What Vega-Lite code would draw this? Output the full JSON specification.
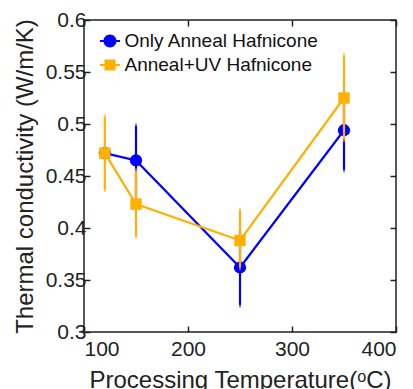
{
  "$schema": "https://vega.github.io/schema/vega-lite/v6.json",
  "width": 312,
  "height": 312,
  "autosize": {"type": "none"},
  "padding": {"left": 84, "top": 20, "right": 17, "bottom": 57},
  "background": "white",
  "config": {
    "font": "Liberation Sans",
    "view": {"stroke": "#222", "strokeWidth": 1.5},
    "axis": {
      "grid": false,
      "domain": false,
      "tickSize": -6,
      "tickColor": "#222",
      "tickWidth": 1.5,
      "labelFont": "Liberation Sans",
      "labelFontSize": 21,
      "labelColor": "#222",
      "titleFont": "Liberation Sans",
      "titleFontSize": 24,
      "titleFontWeight": "normal",
      "titleColor": "#222"
    }
  },
  "data": {
    "values": [
      {"series": "Only Anneal Hafnicone", "T": 120, "k": 0.472, "lo": 0.467, "hi": 0.477},
      {"series": "Only Anneal Hafnicone", "T": 150, "k": 0.465, "lo": 0.431, "hi": 0.498},
      {"series": "Only Anneal Hafnicone", "T": 250, "k": 0.362, "lo": 0.326, "hi": 0.398},
      {"series": "Only Anneal Hafnicone", "T": 350, "k": 0.494, "lo": 0.456, "hi": 0.532},
      {"series": "Anneal+UV Hafnicone", "T": 120, "k": 0.472, "lo": 0.437, "hi": 0.507},
      {"series": "Anneal+UV Hafnicone", "T": 150, "k": 0.423, "lo": 0.392, "hi": 0.455},
      {"series": "Anneal+UV Hafnicone", "T": 250, "k": 0.388, "lo": 0.362, "hi": 0.417},
      {"series": "Anneal+UV Hafnicone", "T": 350, "k": 0.525, "lo": 0.485, "hi": 0.566}
    ]
  },
  "layer": [
    {
      "encoding": {
        "x": {
          "field": "T", "type": "quantitative",
          "scale": {"domain": [100, 400], "nice": false, "zero": false},
          "axis": {"orient": "bottom", "values": [100, 200, 300, 400], "title": "Processing Temperature(ᵒC)", "labelPadding": 12, "titlePadding": 9}
        },
        "y": {
          "field": "k", "type": "quantitative",
          "scale": {"domain": [0.3, 0.6], "nice": false, "zero": false},
          "axis": {"orient": "left", "values": [0.3, 0.35, 0.4, 0.45, 0.5, 0.55, 0.6], "format": "~g", "title": "Thermal conductivity (W/m/K)", "labelPadding": 4, "titlePadding": 8}
        },
        "color": {
          "field": "series", "type": "nominal",
          "scale": {"domain": ["Only Anneal Hafnicone", "Anneal+UV Hafnicone"], "range": ["#0000FF", "#FFB000"]},
          "legend": {
            "title": null, "orient": "none", "legendX": 16.5, "legendY": 11.5, "padding": 0,
            "labelFontSize": 19, "labelFont": "Liberation Sans", "labelColor": "#111", "labelLimit": 0,
            "symbolSize": 169, "symbolOpacity": 1, "symbolStrokeWidth": 0,
            "rowPadding": 4, "labelOffset": 5,
            "encode": {
              "symbols": {
                "update": {
                  "shape": {"signal": "datum.value === 'Only Anneal Hafnicone' ? 'M-1,0A1,1,0,1,1,1,0A1,1,0,1,1,-1,0ZM-1.55,-0.15H1.55V0.15H-1.55Z' : 'M-0.85,-0.85H0.85V0.85H-0.85ZM-1.55,-0.15H1.55V0.15H-1.55Z'"}
                }
              }
            }
          }
        }
      },
      "layer": [
        {
          "transform": [{"filter": "datum.series == 'Only Anneal Hafnicone'"}],
          "layer": [
            {"mark": {"type": "line", "strokeWidth": 2.2}},
            {"mark": {"type": "rule", "strokeWidth": 2.2}, "encoding": {"y": {"field": "lo", "type": "quantitative"}, "y2": {"field": "hi"}}},
            {"mark": {"type": "tick", "thickness": 1.5, "size": 5}, "encoding": {"y": {"field": "lo", "type": "quantitative"}}},
            {"mark": {"type": "tick", "thickness": 1.5, "size": 5}, "encoding": {"y": {"field": "hi", "type": "quantitative"}}},
            {"mark": {"type": "point", "filled": true, "opacity": 1, "size": 150, "shape": "circle"}}
          ]
        },
        {
          "transform": [{"filter": "datum.series == 'Anneal+UV Hafnicone'"}],
          "layer": [
            {"mark": {"type": "line", "strokeWidth": 2.2}},
            {"mark": {"type": "rule", "strokeWidth": 2.2}, "encoding": {"y": {"field": "lo", "type": "quantitative"}, "y2": {"field": "hi"}}},
            {"mark": {"type": "tick", "thickness": 1.5, "size": 5}, "encoding": {"y": {"field": "lo", "type": "quantitative"}}},
            {"mark": {"type": "tick", "thickness": 1.5, "size": 5}, "encoding": {"y": {"field": "hi", "type": "quantitative"}}},
            {"mark": {"type": "point", "filled": true, "opacity": 1, "size": 130, "shape": "square"}}
          ]
        }
      ]
    },
    {
      "mark": {"type": "point", "opacity": 0},
      "encoding": {
        "x": {"field": "T", "type": "quantitative", "axis": {"orient": "top", "values": [100, 200, 300, 400], "labels": false, "title": null}},
        "y": {"field": "k", "type": "quantitative", "axis": {"orient": "right", "values": [0.3, 0.35, 0.4, 0.45, 0.5, 0.55, 0.6], "labels": false, "title": null}}
      }
    }
  ],
  "resolve": {"axis": {"x": "independent", "y": "independent"}}
}
